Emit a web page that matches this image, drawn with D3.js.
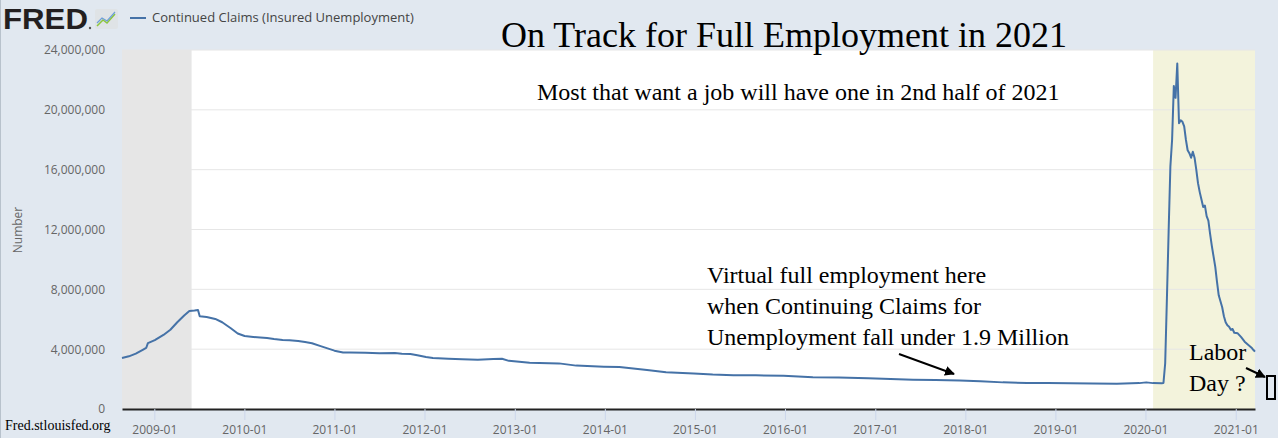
<!DOCTYPE html>
<html>
<head>
<meta charset="utf-8">
<script src="https://cdn.jsdelivr.net/npm/d3@7"></script>
<style>
  body { margin: 0; background: #e1e8f0; }
  svg { display: block; }
</style>
</head>
<body>
<script>
// weekly-ish readings of continued claims
let dates = [
  "2008-08-23","2008-09-20","2008-10-18","2008-11-15","2008-11-29","2008-12-06",
  "2009-01-03","2009-02-07","2009-03-07","2009-04-04","2009-05-02","2009-05-23",
  "2009-06-13","2009-06-27","2009-07-04","2009-08-01","2009-09-05","2009-10-03",
  "2009-11-07","2009-12-05","2010-01-02","2010-02-06","2010-03-06","2010-04-03",
  "2010-05-01","2010-06-05","2010-07-03","2010-08-07","2010-09-04","2010-10-02",
  "2010-11-06","2010-12-04","2011-01-01","2011-02-05","2011-03-05","2011-05-07",
  "2011-07-02","2011-09-03","2011-10-01","2011-11-05","2011-12-03","2012-01-07",
  "2012-02-04","2012-04-07","2012-06-02","2012-08-04","2012-10-06","2012-11-10",
  "2012-12-08","2013-03-02","2013-06-29","2013-09-07","2013-12-28","2014-03-01",
  "2014-06-21","2014-09-06","2014-12-27","2015-03-14","2015-06-06","2015-09-05",
  "2015-12-26","2016-04-23","2016-08-06","2016-12-03","2017-03-04","2017-06-03",
  "2017-09-02","2017-12-09","2018-03-03","2018-06-02","2018-09-08","2018-12-01",
  "2019-03-02","2019-06-01","2019-09-07","2019-12-07","2020-01-04","2020-02-01",
  "2020-03-07","2020-03-14","2020-03-21","2020-03-28","2020-04-04","2020-04-11",
  "2020-04-18","2020-04-25","2020-05-02","2020-05-09","2020-05-16","2020-05-23",
  "2020-05-30","2020-06-06","2020-06-13","2020-06-20","2020-06-27","2020-07-04",
  "2020-07-11","2020-07-18","2020-07-25","2020-08-01","2020-08-08","2020-08-15",
  "2020-08-22","2020-08-29","2020-09-05","2020-09-12","2020-09-19","2020-09-26",
  "2020-10-03","2020-10-10","2020-10-17","2020-10-24","2020-10-31","2020-11-07",
  "2020-11-14","2020-11-21","2020-11-28","2020-12-05","2020-12-12","2020-12-19",
  "2020-12-26","2021-01-09","2021-01-23","2021-02-06","2021-02-20","2021-03-06",
  "2021-03-13","2021-03-20"
];
let claims = [
  3410000,3520000,3700000,3950000,4080000,4400000,
  4600000,4950000,5300000,5800000,6250000,6550000,
  6580000,6620000,6200000,6150000,6020000,5800000,
  5400000,5050000,4880000,4820000,4780000,4750000,
  4680000,4620000,4600000,4550000,4480000,4400000,
  4200000,4050000,3900000,3780000,3780000,3760000,
  3720000,3740000,3700000,3680000,3600000,3480000,
  3410000,3360000,3330000,3300000,3340000,3360000,
  3220000,3100000,3050000,2900000,2830000,2800000,
  2610000,2450000,2380000,2300000,2260000,2250000,
  2220000,2120000,2100000,2050000,2000000,1960000,
  1940000,1900000,1860000,1780000,1740000,1730000,
  1720000,1700000,1690000,1730000,1780000,1730000,
  1720000,1740000,3060000,7400000,11900000,16200000,
  18000000,21600000,20800000,23100000,19100000,19300000,
  19200000,18900000,18000000,17300000,17100000,16800000,
  17200000,16800000,16000000,15100000,14500000,14000000,
  13500000,13600000,12900000,12600000,11700000,10900000,
  10200000,9500000,8500000,7600000,7200000,6800000,
  6200000,5800000,5600000,5500000,5300000,5350000,
  5100000,5060000,4800000,4500000,4300000,4100000,
  3960000,3830000
];
let yTicks = [0, 4000000, 8000000, 12000000, 16000000, 20000000, 24000000];
let xTickLabels = ["2009-01","2010-01","2011-01","2012-01","2013-01","2014-01",
  "2015-01","2016-01","2017-01","2018-01","2019-01","2020-01","2021-01"];
let recession = ["2008-08-23", "2009-06-01"];
let covidBand = ["2020-02-01", "2021-03-20"];

let width = 1278, height = 438;
let margin = {top: 50, right: 23, bottom: 29, left: 122};

let parse = d3.utcParse("%Y-%m-%d");
let parseMonth = d3.utcParse("%Y-%m");
let points = dates.map((d, i) => [parse(d), claims[i]]);

let x = d3.scaleUtc()
  .domain([parse(dates[0]), parse(dates[dates.length - 1])])
  .range([margin.left, width - margin.right]);
let y = d3.scaleLinear()
  .domain([0, 24000000])
  .range([height - margin.bottom, margin.top]);

let svg = d3.select("body").append("svg")
  .attr("width", width)
  .attr("height", height);

svg.append("rect")
  .attr("width", width).attr("height", height)
  .attr("fill", "#e1e8f0");
svg.append("line")
  .attr("x1", 0.5).attr("x2", 0.5).attr("y1", 0).attr("y2", height)
  .attr("stroke", "#b8c2cc");

// plot area
svg.append("rect")
  .attr("x", margin.left).attr("y", margin.top)
  .attr("width", width - margin.left - margin.right)
  .attr("height", height - margin.top - margin.bottom)
  .attr("fill", "#ffffff");

svg.append("rect")
  .attr("x", x(parse(recession[0])))
  .attr("y", margin.top)
  .attr("width", x(parse(recession[1])) - x(parse(recession[0])))
  .attr("height", height - margin.top - margin.bottom)
  .attr("fill", "#e6e6e6");

svg.append("rect")
  .attr("x", x(parse(covidBand[0])))
  .attr("y", margin.top)
  .attr("width", x(parse(covidBand[1])) - x(parse(covidBand[0])))
  .attr("height", height - margin.top - margin.bottom)
  .attr("fill", "#f3f3dc");

// gridlines
svg.append("g")
  .selectAll("line")
  .data(yTicks.slice(1))
  .join("line")
  .attr("x1", margin.left).attr("x2", width - margin.right)
  .attr("y1", d => y(d)).attr("y2", d => y(d))
  .attr("stroke", "#e6e6e6").attr("stroke-width", 1);

// y axis labels
let yAxis = svg.append("g")
  .attr("transform", "translate(" + (margin.left - 17) + ",0)")
  .call(d3.axisLeft(y).tickValues(yTicks).tickSize(0).tickPadding(0)
    .tickFormat(d3.format(",")));
yAxis.select(".domain").remove();
yAxis.selectAll("text")
  .attr("font-family", "Open Sans")
  .attr("font-size", 12)
  .attr("fill", "#666666");

svg.append("text")
  .attr("transform", "translate(22,230) rotate(-90)")
  .attr("text-anchor", "middle")
  .attr("font-family", "Open Sans")
  .attr("font-size", 12)
  .attr("fill", "#666666")
  .text("Number");

// x axis
let xAxis = svg.append("g")
  .attr("transform", "translate(0," + (height - margin.bottom) + ")")
  .call(d3.axisBottom(x)
    .tickValues(xTickLabels.map(parseMonth))
    .tickSize(11).tickSizeOuter(0).tickPadding(5)
    .tickFormat(d3.utcFormat("%Y-%m")));
xAxis.select(".domain")
  .attr("stroke", "#222222").attr("stroke-width", 2);
xAxis.selectAll(".tick line").attr("stroke", "#ccd6eb");
xAxis.selectAll("text")
  .attr("font-family", "Open Sans")
  .attr("font-size", 12)
  .attr("fill", "#666666");

// series
let lineSpec = d3.line()
  .x(d => x(d[0]))
  .y(d => y(d[1]));

svg.append("path")
  .datum(points)
  .attr("fill", "none")
  .attr("stroke", "#4572a7")
  .attr("stroke-width", 2)
  .attr("stroke-linejoin", "round")
  .attr("d", lineSpec);

// FRED header
svg.append("text")
  .attr("x", 3).attr("y", 29)
  .attr("font-family", "Liberation Sans")
  .attr("font-weight", "bold")
  .attr("font-size", 29)
  .attr("textLength", 85)
  .attr("lengthAdjust", "spacingAndGlyphs")
  .attr("fill", "#231f20")
  .text("FRED");
svg.append("circle").attr("cx", 90).attr("cy", 28).attr("r", 1.2).attr("fill", "#555");
let icon = svg.append("g").attr("transform", "translate(95,9)");
icon.append("rect").attr("width", 23).attr("height", 20).attr("rx", 2).attr("fill", "#dfe3e6");
icon.append("path").attr("d", "M2,17 L8,11 L12,14 L20,5").attr("fill", "none")
  .attr("stroke", "#8dc63f").attr("stroke-width", 1.5);
icon.append("path").attr("d", "M2,14 L7,9 L12,12 L20,3").attr("fill", "none")
  .attr("stroke", "#6f9fd8").attr("stroke-width", 1.2);

svg.append("line")
  .attr("x1", 130).attr("x2", 146).attr("y1", 18).attr("y2", 18)
  .attr("stroke", "#4572a7").attr("stroke-width", 2);
svg.append("text")
  .attr("x", 152).attr("y", 22)
  .attr("font-family", "Open Sans")
  .attr("font-size", 13)
  .attr("fill", "#444444")
  .text("Continued Claims (Insured Unemployment)");

// annotations
let serif = "Liberation Serif, Times New Roman, serif";
svg.append("text")
  .attr("x", 501).attr("y", 47)
  .attr("font-family", serif)
  .attr("font-size", 36)
  .attr("fill", "#000")
  .text("On Track for Full Employment in 2021");

svg.append("text")
  .attr("x", 537).attr("y", 100)
  .attr("font-family", serif)
  .attr("font-size", 24)
  .attr("fill", "#000")
  .text("Most that want a job will have one in 2nd half of 2021");

let noteLines = ["Virtual full employment here", "when Continuing Claims for",
  "Unemployment fall under 1.9 Million"];
svg.append("g")
  .selectAll("text")
  .data(noteLines)
  .join("text")
  .attr("x", 707)
  .attr("y", (d, i) => 283 + i * 31)
  .attr("font-family", serif)
  .attr("font-size", 24)
  .attr("fill", "#000")
  .text(d => d);

let laborLines = ["Labor", "Day ?"];
svg.append("g")
  .selectAll("text")
  .data(laborLines)
  .join("text")
  .attr("x", 1189)
  .attr("y", (d, i) => 360 + i * 31)
  .attr("font-family", serif)
  .attr("font-size", 24)
  .attr("fill", "#000")
  .text(d => d);

svg.append("defs").append("marker")
  .attr("id", "head")
  .attr("viewBox", "0 0 10 10")
  .attr("refX", 9).attr("refY", 5)
  .attr("markerWidth", 5).attr("markerHeight", 5)
  .attr("orient", "auto")
  .append("path").attr("d", "M0,0 L10,5 L0,10 z").attr("fill", "#000");

svg.append("line")
  .attr("x1", 899).attr("y1", 354).attr("x2", 954).attr("y2", 374)
  .attr("stroke", "#000").attr("stroke-width", 2)
  .attr("marker-end", "url(#head)");
svg.append("line")
  .attr("x1", 1246).attr("y1", 368).attr("x2", 1265).attr("y2", 377)
  .attr("stroke", "#000").attr("stroke-width", 2)
  .attr("marker-end", "url(#head)");
svg.append("rect")
  .attr("x", 1267).attr("y", 376)
  .attr("width", 8).attr("height", 23)
  .attr("fill", "none")
  .attr("stroke", "#000").attr("stroke-width", 2);

svg.append("text")
  .attr("x", 5).attr("y", 430)
  .attr("font-family", serif)
  .attr("font-size", 14)
  .attr("fill", "#000")
  .text("Fred.stlouisfed.org");
</script>
</body>
</html>
